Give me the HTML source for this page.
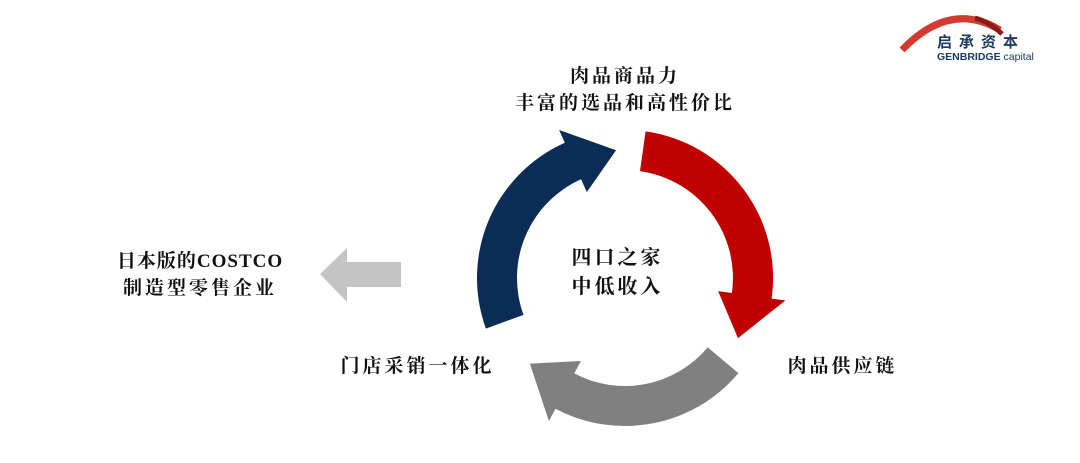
<!DOCTYPE html>
<html><head><meta charset="utf-8"><style>
body{margin:0;width:1080px;height:463px;background:#fff;overflow:hidden;position:relative;font-family:"Liberation Serif","Noto Serif CJK SC",serif;color:#111}
.t{position:absolute;font-weight:bold;font-size:19px;white-space:nowrap;letter-spacing:3px;line-height:27px;text-align:center}
svg{position:absolute;left:0;top:0}
</style></head><body>
<svg width="1080" height="463" id="s">
<polygon points="320,274 347,248 347,262 401,262 401,287 347,287 347,302" fill="#c4c4c4"/>
<path d="M902,50 Q950,0 1000,30" stroke="#d23a32" stroke-width="7" fill="none"/>
<path d="M975,18 Q990,22 1002,34" stroke="#8a1c18" stroke-width="5" fill="none"/>
<text x="937" y="47" font-family="Liberation Sans,Noto Sans CJK SC,sans-serif" font-weight="bold" font-size="15" fill="#1b3a66" letter-spacing="7">启承资本</text>
<text x="937" y="60" font-family="Liberation Sans,sans-serif" font-weight="bold" font-size="10.5" fill="#1b3a66">GENBRIDGE <tspan font-weight="normal">capital</tspan></text>
</svg>
<div class="t" style="left:500px;top:63px;width:250px">肉品商品力<br>丰富的选品和高性价比</div>
<div class="t" style="left:95px;top:248px;width:210px;letter-spacing:1px">日本版的COSTCO<br><span style="letter-spacing:3px">制造型零售企业</span></div>
<div class="t" style="left:330px;top:353px;width:175px">门店采销一体化</div>
<div class="t" style="left:780px;top:353px;width:125px">肉品供应链</div>
<div class="t" style="left:560px;top:244px;width:115px;font-size:20px;line-height:29px">四口之家<br>中低收入</div>
<script>
var cx=625,cy=278,ro=148,ri=108,s=document.getElementById('s');
function P(r,a){a=a*Math.PI/180;return (cx+r*Math.cos(a)).toFixed(1)+','+(cy+r*Math.sin(a)).toFixed(1);}
function arrow(a0,a1,a2,col){
 var d='M'+P(ro,a0)+' A'+ro+','+ro+' 0 0 1 '+P(ro,a1)+' L'+P(ro+14,a1)+' L'+P((ro+ri)/2,a2)+' L'+P(ri-14,a1)+' L'+P(ri,a1)+' A'+ri+','+ri+' 0 0 0 '+P(ri,a0)+' Z';
 var p=document.createElementNS('http://www.w3.org/2000/svg','path');p.setAttribute('d',d);p.setAttribute('fill',col);s.appendChild(p);}
arrow(-82,8,28,'#c00000');
arrow(40,118,138,'#808080');
arrow(160,246,266,'#0b2d55');
</script>
</body></html>
